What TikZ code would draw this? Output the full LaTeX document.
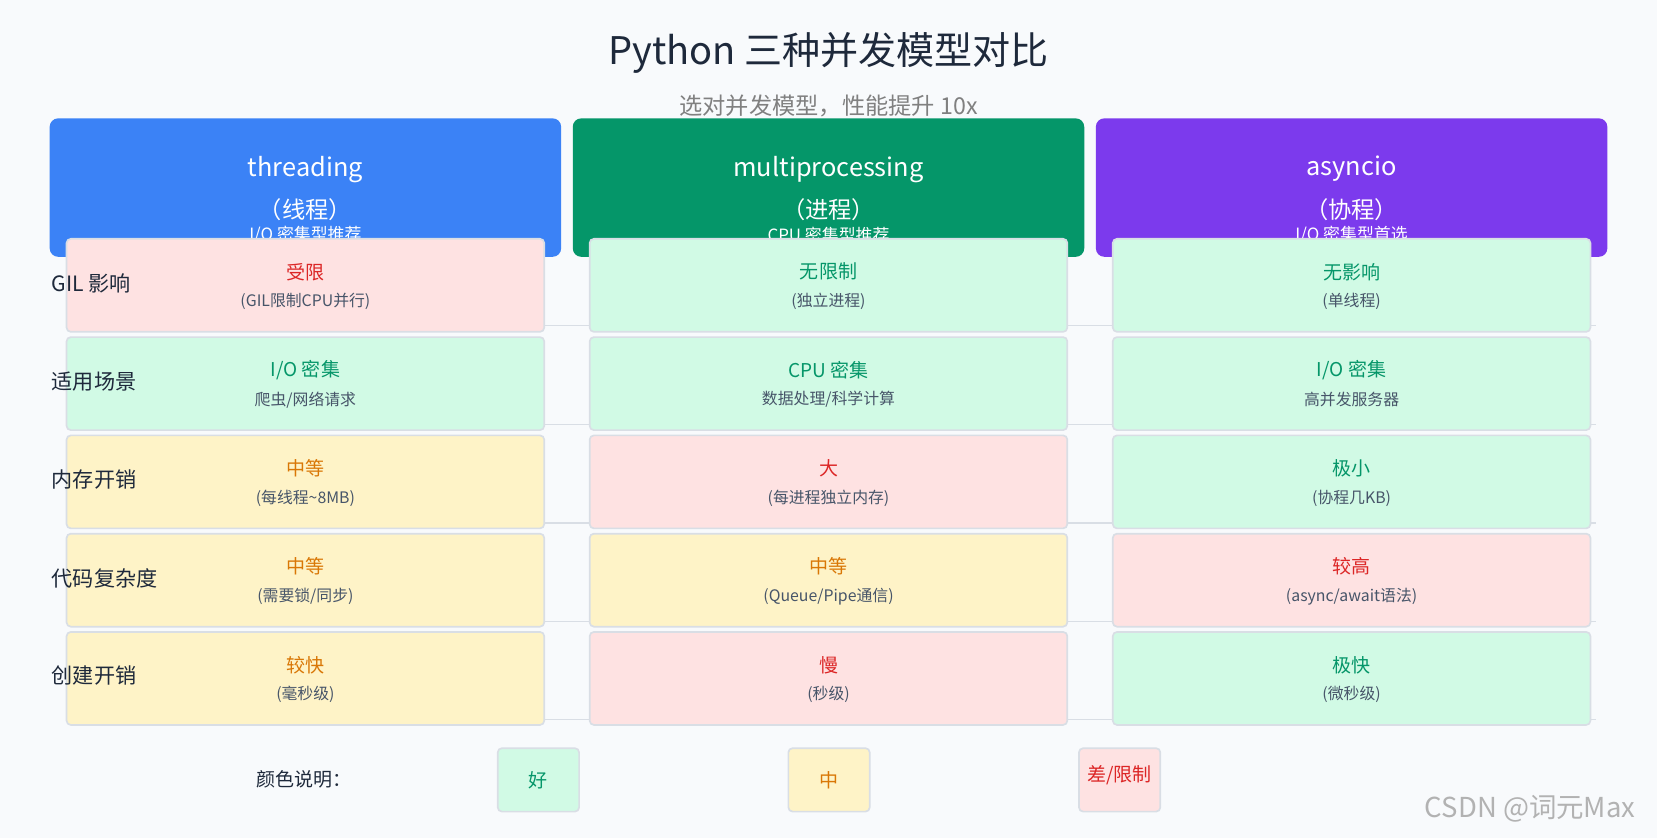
\documentclass[tikz,border=0pt]{standalone}
\usepackage{fontspec}
\setmainfont{Noto Sans CJK SC}
\usetikzlibrary{positioning}
\definecolor{bgc}{HTML}{F8FAFC}
\definecolor{blueh}{HTML}{3B82F6}
\definecolor{greenh}{HTML}{059669}
\definecolor{purpleh}{HTML}{7C3AED}
\definecolor{goodbg}{HTML}{D1FAE5}
\definecolor{goodtx}{HTML}{059669}
\definecolor{midbg}{HTML}{FEF3C7}
\definecolor{midtx}{HTML}{D97706}
\definecolor{badbg}{HTML}{FEE2E2}
\definecolor{badtx}{HTML}{DC2626}
\definecolor{cellline}{HTML}{D9DEE5}
\definecolor{darktx}{HTML}{1E293B}
\definecolor{subtx}{HTML}{475569}
\tikzset{
  head/.style={rectangle, rounded corners=4pt, minimum width=242pt, minimum height=65.5pt, inner sep=0pt},
  cell/.style={rectangle, rounded corners=2pt, draw=cellline, line width=0.8pt, minimum width=226pt, minimum height=44pt, inner sep=0pt},
  good/.style={cell, fill=goodbg},
  mid/.style={cell, fill=midbg},
  bad/.style={cell, fill=badbg},
  lbl/.style={anchor=west, font=\fontsize{10}{12}\selectfont, text=darktx},
  key/.style={rectangle, rounded corners=2pt, draw=cellline, line width=0.8pt, minimum width=38.5pt, minimum height=30pt, inner sep=0pt, font=\fontsize{9}{11}\selectfont}
}
% top line coloured, bottom line grey
\newcommand{\cellbox}[6]{%
  \node[#3] (c#1#2) at (#4) {};
  \node[text=#3tx, font=\fontsize{9}{11}\selectfont] at ([yshift=-16pt]c#1#2.north) {#5};
  \node[text=subtx, font=\fontsize{7.5}{9}\selectfont] at ([yshift=-30pt]c#1#2.north) {#6};
}
\begin{document}
\begin{tikzpicture}[x=0.5pt, y=-0.5pt]
\fill[bgc] (0,0) rectangle (1568,793);
\useasboundingbox (0,0) rectangle (1568,793);
\node[text=darktx, font=\fontsize{18}{20}\selectfont] (title) at (784,50) {Python 三种并发模型对比};
\node[text=gray, font=\fontsize{11}{13}\selectfont] (sub) at (784,100) {选对并发模型，性能提升 10x};
% headers
\foreach \nm/\col/\x/\nam/\cn/\hint in {ht/blueh/289/threading/线程/{I/O 密集型推荐},
    hm/greenh/784/multiprocessing/进程/{CPU 密集型推荐},
    ha/purpleh/1279/asyncio/协程/{I/O 密集型首选}}{
  \node[head, fill=\col] (\nm) at (\x,177.5) {};
  \node[text=white, font=\fontsize{12}{14}\selectfont] at (\x,160) {\nam};
  \node[text=white, font=\fontsize{11}{13}\selectfont] at (\x,198) {（\cn）};
  \node[text=white, font=\fontsize{8}{10}\selectfont] at (\x,222) {\hint};
}
% separators
\foreach \y in {308,402,495,588,681}
  \draw[cellline, line width=0.6pt] (120,\y) -- (1510,\y);
% cells
\cellbox{1}{1}{bad}{289,270}{受限}{(GIL限制CPU并行)}
\cellbox{2}{1}{good}{784,270}{无限制}{(独立进程)}
\cellbox{3}{1}{good}{1279,270}{无影响}{(单线程)}
\cellbox{1}{2}{good}{289,363}{I/O 密集}{爬虫/网络请求}
\cellbox{2}{2}{good}{784,363}{CPU 密集}{数据处理/科学计算}
\cellbox{3}{2}{good}{1279,363}{I/O 密集}{高并发服务器}
\cellbox{1}{3}{mid}{289,456}{中等}{(每线程\textasciitilde8MB)}
\cellbox{2}{3}{bad}{784,456}{大}{(每进程独立内存)}
\cellbox{3}{3}{good}{1279,456}{极小}{(协程几KB)}
\cellbox{1}{4}{mid}{289,549}{中等}{(需要锁/同步)}
\cellbox{2}{4}{mid}{784,549}{中等}{(Queue/Pipe通信)}
\cellbox{3}{4}{bad}{1279,549}{较高}{(async/await语法)}
\cellbox{1}{5}{mid}{289,642}{较快}{(毫秒级)}
\cellbox{2}{5}{bad}{784,642}{慢}{(秒级)}
\cellbox{3}{5}{good}{1279,642}{极快}{(微秒级)}
% row labels
\foreach \y/\t in {268/GIL 影响, 361/适用场景, 454/内存开销, 547/代码复杂度, 639/创建开销}
  \node[lbl] at (42,\y) {\t};
% legend
\node[text=darktx, font=\fontsize{9}{11}\selectfont] (legend) at (288,737) {颜色说明：};
\node[key, fill=goodbg, text=goodtx] (kgood) at (509.5,738) {好};
\node[key, fill=midbg, text=midtx] (kmid) at (784.5,738) {中};
\node[key, fill=badbg] (kbad) at (1059.5,738) {};
\node[text=badtx, font=\fontsize{9}{11}\selectfont] at ([yshift=2pt]kbad.center) {差/限制};
\node[text=gray!60, font=\fontsize{13}{15}\selectfont] (mark) at (1448,765) {CSDN @词元Max};
\end{tikzpicture}
\end{document}
